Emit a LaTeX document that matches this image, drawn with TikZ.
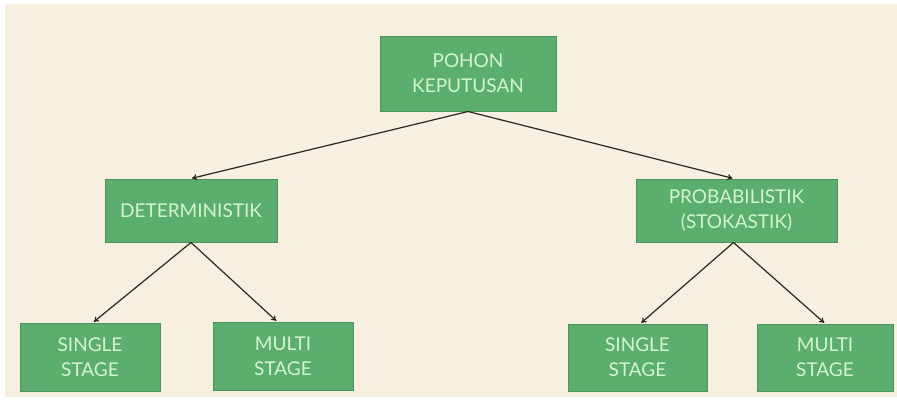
\documentclass[tikz,border=0pt]{standalone}
\usepackage{fontspec}
\setmainfont{Lato}
\usetikzlibrary{arrows.meta}
\definecolor{bgbeige}{RGB}{247,239,223}
\definecolor{boxgreen}{RGB}{92,174,110}
\definecolor{boxedge}{RGB}{78,146,94}
\definecolor{boxtext}{RGB}{210,245,205}
\definecolor{arrowcol}{RGB}{40,40,35}
\tikzset{
  gbox/.style={draw=boxedge, line width=1pt, fill=boxgreen, text=boxtext,
    align=center, inner sep=0pt, font=\fontsize{19}{25}\selectfont},
  conn/.style={draw=arrowcol, line width=1.2pt, -{To[length=5pt,width=6pt]}, shorten >=1pt}
}
\begin{document}
\begin{tikzpicture}[x=1pt,y=-1pt]
\fill[white] (0,0) rectangle (897,399);
\fill[bgbeige] (5,4) rectangle (897,397);
\useasboundingbox (0,0) rectangle (897,399);

\node[gbox, minimum width=176pt, minimum height=75pt] (top) at (468,73.5) {POHON\\KEPUTUSAN};
\node[gbox, minimum width=172pt, minimum height=63pt] (det) at (191,210.5) {DETERMINISTIK};
\node[gbox, minimum width=201pt, minimum height=63pt] (prob) at (736.5,210.5) {PROBABILISTIK\\(STOKASTIK)};
\node[gbox, minimum width=140pt, minimum height=68pt] (sl) at (90,357) {SINGLE\\STAGE};
\node[gbox, minimum width=140pt, minimum height=68pt] (ml) at (283,356) {MULTI\\STAGE};
\node[gbox, minimum width=139pt, minimum height=67pt] (sr) at (637.5,357.5) {SINGLE\\STAGE};
\node[gbox, minimum width=136pt, minimum height=67pt] (mr) at (825,357.5) {MULTI\\STAGE};

\draw[conn] (top.south) -- (det.north);
\draw[conn] (top.south) -- ([xshift=-3pt]prob.north);
\draw[conn] (det.south) -- ([xshift=3pt]sl.north);
\draw[conn] (det.south) -- ([xshift=-6pt]ml.north);
\draw[conn] ([xshift=-3pt]prob.south) -- ([xshift=3pt]sr.north);
\draw[conn] ([xshift=-3pt]prob.south) -- (mr.north);
\end{tikzpicture}
\end{document}
